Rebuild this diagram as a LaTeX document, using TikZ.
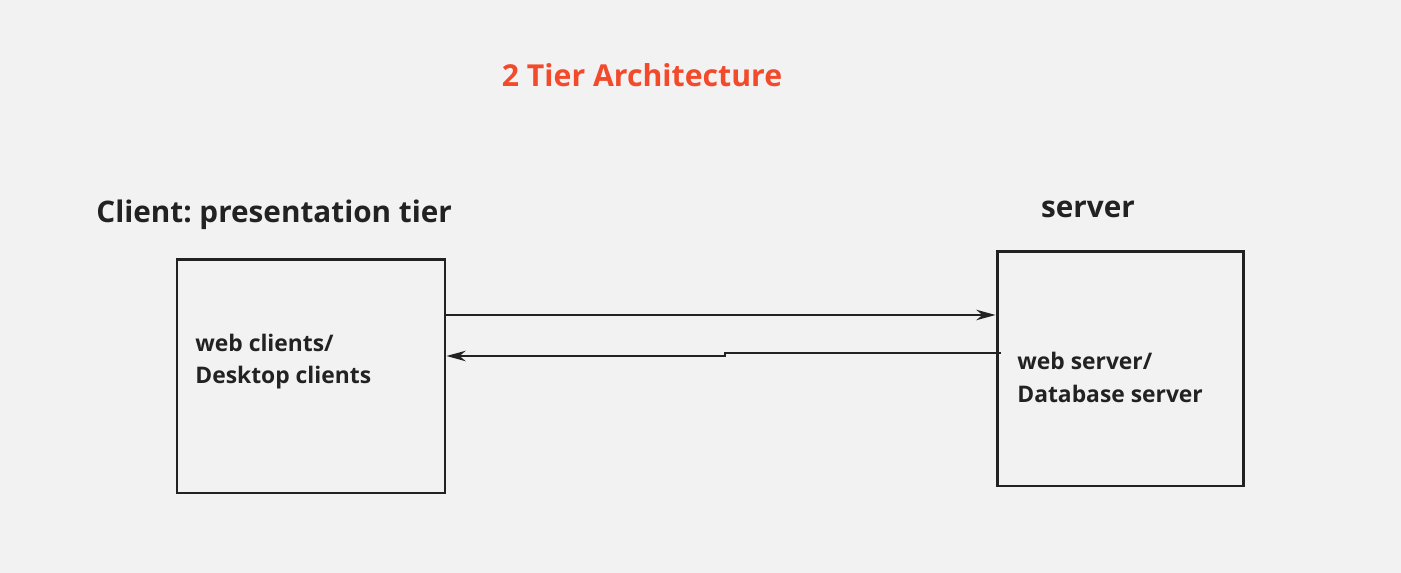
\documentclass[tikz,border=0pt]{standalone}
\usepackage{fontspec}
\setmainfont{Open Sans}
\usepackage{tikz}
\usetikzlibrary{arrows.meta}
\usetikzlibrary{positioning}
\frenchspacing
\definecolor{bgcol}{HTML}{F2F2F2}
\definecolor{inkcol}{HTML}{222222}
\definecolor{titlecol}{HTML}{F24A2A}
\tikzset{
    tierbox/.style={draw=inkcol, line width=1.7pt, fill=none, inner sep=0pt},
    head/.style={font=\fontsize{16.9}{20}\selectfont\bfseries, text=inkcol, inner sep=0pt},
    boxtext/.style={font=\fontsize{13}{18.7}\selectfont\bfseries, text=inkcol, align=left, inner sep=0pt, anchor=west},
    link/.style={draw=inkcol, line width=0.8pt, -{Stealth[length=11pt, width=6pt]}}
}
\begin{document}
\begin{tikzpicture}[x=0.02cm, y=-0.02cm]
        \fill[bgcol] (0,0) rectangle (1401,573);
        \useasboundingbox (0,0) rectangle (1401,573);
        % title
        \node[head, text=titlecol, font=\fontsize{17.2}{20}\selectfont\bfseries] (title) at (642,75) {2 Tier Architecture};
        % tiers
        \node[tierbox, minimum width=268*0.02cm, minimum height=233*0.02cm] (client) at (311,376.5) {};
        \node[tierbox, minimum width=246*0.02cm, minimum height=234*0.02cm] (server) at (1120,369) {};
        \node[head, anchor=west] (clienthead) at (96,215) {Client: presentation tier};
        \node[head] (serverhead) at (1088,209) {server};
        \node[boxtext] (clienttext) at (195,361.5) {web clients/\\Desktop clients};
        \node[boxtext] (servertext) at (1017,377.5) {web server/\\Database server};
        % connectors
        \coordinate (req) at (0,315);
        \coordinate (resp) at (0,353);
        \coordinate (step) at (725,353);
        \draw[link] (client.east |- req) -- (server.west |- req);
        \draw[link] ([xshift=5*0.02cm]server.west |- resp) -- (step) -- ++(0,3) -- (client.east |- 0,356);
    \end{tikzpicture}
\end{document}
